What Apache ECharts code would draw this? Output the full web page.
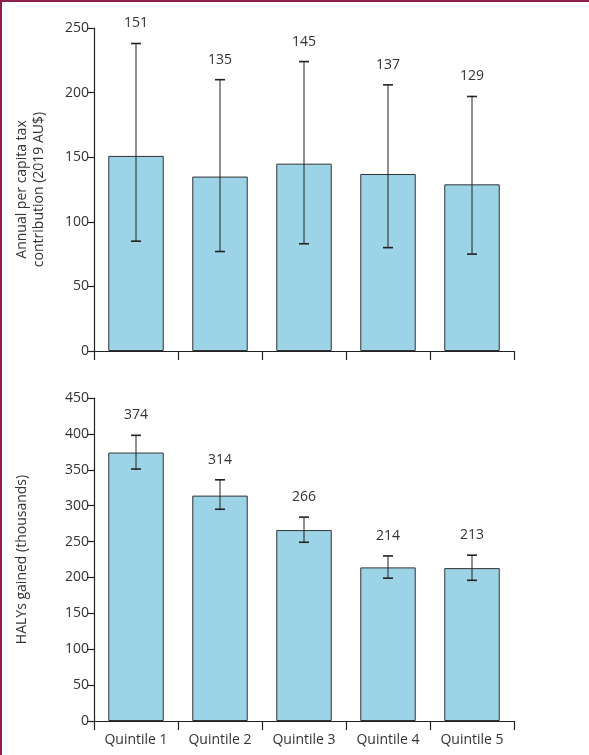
<!DOCTYPE html>
<html>
<head>
<meta charset="utf-8">
<script src="https://cdn.jsdelivr.net/npm/echarts@6/dist/echarts.min.js"></script>
<style>
  html, body { margin: 0; padding: 0; background: #fff; }
  #frame { position: absolute; left: 0; top: 0; width: 589px; height: 755px; box-sizing: border-box;
           border-left: 2px solid #8e1e4e; border-top: 2px solid #8e1e4e; }
  #chart { width: 589px; height: 755px; }
</style>
</head>
<body>
<div id="frame"></div>
<div id="chart"></div>
<script>
    var categories = ['Quintile 1', 'Quintile 2', 'Quintile 3', 'Quintile 4', 'Quintile 5'];

    // top panel: annual per capita tax contribution
    var taxValues = [151, 135, 145, 137, 129];
    var taxLow = [85, 77, 83, 80, 75];
    var taxHigh = [238, 210, 224, 206, 197];
    var taxTicks = [0, 50, 100, 150, 200, 250];

    // bottom panel: HALYs gained (thousands)
    var halyValues = [374, 314, 266, 214, 213];
    var halyLow = [351, 295, 249, 199, 196];
    var halyHigh = [398, 336, 284, 230, 231];
    var halyTicks = [0, 50, 100, 150, 200, 250, 300, 350, 400, 450];

    var textColor = '#333';
    var font = 'Open Sans';

    function errorSeries(axisIndex, values, low, high) {
        return {
            type: 'custom',
            xAxisIndex: axisIndex,
            yAxisIndex: axisIndex,
            z: 5,
            data: values.map(function (v, i) { return [i, low[i], high[i], v]; }),
            renderItem: function (params, api) {
                var lo = api.coord([api.value(0), api.value(1)]);
                var hi = api.coord([api.value(0), api.value(2)]);
                var hw = 5;
                var st = { stroke: '#222', lineWidth: 1.6 };
                return {
                    type: 'group',
                    children: [
                        { type: 'line', shape: { x1: lo[0], y1: lo[1], x2: hi[0], y2: hi[1] }, style: { stroke: '#222', lineWidth: 1 } },
                        { type: 'line', shape: { x1: lo[0] - hw, y1: lo[1], x2: lo[0] + hw, y2: lo[1] }, style: st },
                        { type: 'line', shape: { x1: hi[0] - hw, y1: hi[1], x2: hi[0] + hw, y2: hi[1] }, style: st },
                        { type: 'text', x: hi[0], y: hi[1] - 13, style: {
                            text: String(api.value(3)), fill: textColor, font: '14px ' + font,
                            align: 'center', verticalAlign: 'bottom' } }
                    ]
                };
            }
        };
    }

    function xAxisCfg(idx, showLabels) {
        return {
            type: 'category', gridIndex: idx, data: categories,
            axisLine: { lineStyle: { color: '#222', width: 1.2 } },
            axisTick: { show: true, length: 9, alignWithLabel: false, lineStyle: { color: '#222', width: 1.2 } },
            axisLabel: { show: showLabels, color: textColor, fontSize: 14, fontFamily: font, margin: 12 }
        };
    }

    function yAxisCfg(idx, ticks, name, gap) {
        return {
            type: 'value', gridIndex: idx, min: ticks[0], max: ticks[ticks.length - 1],
            interval: ticks[1] - ticks[0],
            name: name, nameLocation: 'middle', nameGap: gap,
            nameTextStyle: { color: textColor, fontSize: 14, fontFamily: font, lineHeight: 17 },
            axisLine: { show: true, lineStyle: { color: '#222', width: 1.2 } },
            axisTick: { show: true, length: 7, lineStyle: { color: '#222', width: 1.2 } },
            axisLabel: { color: textColor, fontSize: 14, fontFamily: font, margin: 5 },
            splitLine: { show: false }
        };
    }

    var myChart = echarts.init(document.getElementById('chart'));
    var option = {
        animation: false,
        grid: [
            { left: 94, right: 75, top: 28, height: 323 },
            { left: 94, right: 75, top: 398, height: 323 }
        ],
        xAxis: [xAxisCfg(0, false), xAxisCfg(1, true)],
        yAxis: [
            yAxisCfg(0, taxTicks, 'Annual per capita tax\ncontribution (2019 AU$)', 46),
            yAxisCfg(1, halyTicks, 'HALYs gained (thousands)', 63)
        ],
        series: [
            { type: 'bar', xAxisIndex: 0, yAxisIndex: 0, data: taxValues, barWidth: '66%',
              itemStyle: { color: '#9dd3e6', borderColor: '#333', borderWidth: 1 } },
            { type: 'bar', xAxisIndex: 1, yAxisIndex: 1, data: halyValues, barWidth: '66%',
              itemStyle: { color: '#9dd3e6', borderColor: '#333', borderWidth: 1 } },
            errorSeries(0, taxValues, taxLow, taxHigh),
            errorSeries(1, halyValues, halyLow, halyHigh)
        ]
    };
    myChart.setOption(option);
</script>
</body>
</html>
